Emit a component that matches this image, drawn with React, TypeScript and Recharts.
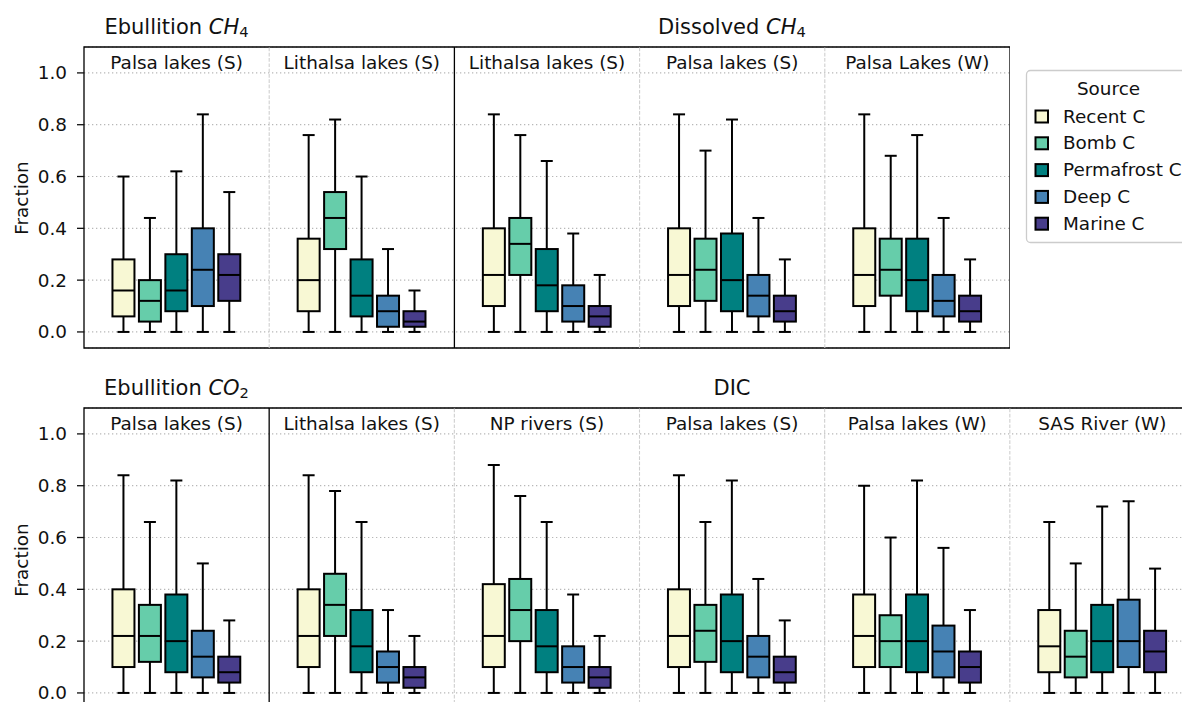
import React from 'react';
import { ComposedChart, Bar, XAxis, YAxis, CartesianGrid, ReferenceLine, ReferenceArea } from 'recharts';

const SOURCES = ['Recent C', 'Bomb C', 'Permafrost C', 'Deep C', 'Marine C'];
const COLORS = ['#f8f8d4', '#66cdaa', '#008080', '#4682b4', '#483d8b'];
const Y_TICKS = [0, 0.2, 0.4, 0.6, 0.8, 1.0];
const Y_DOMAIN: [number, number] = [-0.062, 1.1];
const LOW = [0, 0, 0, 0, 0];

// Top row: Ebullition CH4 (2 panels) + Dissolved CH4 (3 panels)
const TOP_LABELS = ['Palsa lakes (S)', 'Lithalsa lakes (S)', 'Lithalsa lakes (S)', 'Palsa lakes (S)', 'Palsa Lakes (W)'];
const TOP_HI = [
  [0.60, 0.44, 0.62, 0.84, 0.54],
  [0.76, 0.82, 0.60, 0.32, 0.16],
  [0.84, 0.76, 0.66, 0.38, 0.22],
  [0.84, 0.70, 0.82, 0.44, 0.28],
  [0.84, 0.68, 0.76, 0.44, 0.28],
];
const TOP_Q3 = [
  [0.28, 0.20, 0.30, 0.40, 0.30],
  [0.36, 0.54, 0.28, 0.14, 0.08],
  [0.40, 0.44, 0.32, 0.18, 0.10],
  [0.40, 0.36, 0.38, 0.22, 0.14],
  [0.40, 0.36, 0.36, 0.22, 0.14],
];
const TOP_MED = [
  [0.16, 0.12, 0.16, 0.24, 0.22],
  [0.20, 0.44, 0.14, 0.08, 0.04],
  [0.22, 0.34, 0.18, 0.10, 0.06],
  [0.22, 0.24, 0.20, 0.14, 0.08],
  [0.22, 0.24, 0.20, 0.12, 0.08],
];
const TOP_Q1 = [
  [0.06, 0.04, 0.08, 0.10, 0.12],
  [0.08, 0.32, 0.06, 0.02, 0.02],
  [0.10, 0.22, 0.08, 0.04, 0.02],
  [0.10, 0.12, 0.08, 0.06, 0.04],
  [0.10, 0.14, 0.08, 0.06, 0.04],
];

// Bottom row: Ebullition CO2 (1 panel) + DIC (5 panels)
const BOT_LABELS = ['Palsa lakes (S)', 'Lithalsa lakes (S)', 'NP rivers (S)', 'Palsa lakes (S)', 'Palsa lakes (W)', 'SAS River (W)'];
const BOT_HI = [
  [0.84, 0.66, 0.82, 0.50, 0.28],
  [0.84, 0.78, 0.66, 0.32, 0.22],
  [0.88, 0.76, 0.66, 0.38, 0.22],
  [0.84, 0.66, 0.82, 0.44, 0.28],
  [0.80, 0.60, 0.82, 0.56, 0.32],
  [0.66, 0.50, 0.72, 0.74, 0.48],
];
const BOT_Q3 = [
  [0.40, 0.34, 0.38, 0.24, 0.14],
  [0.40, 0.46, 0.32, 0.16, 0.10],
  [0.42, 0.44, 0.32, 0.18, 0.10],
  [0.40, 0.34, 0.38, 0.22, 0.14],
  [0.38, 0.30, 0.38, 0.26, 0.16],
  [0.32, 0.24, 0.34, 0.36, 0.24],
];
const BOT_MED = [
  [0.22, 0.22, 0.20, 0.14, 0.08],
  [0.22, 0.34, 0.18, 0.10, 0.06],
  [0.22, 0.32, 0.18, 0.10, 0.06],
  [0.22, 0.24, 0.20, 0.14, 0.08],
  [0.22, 0.20, 0.20, 0.16, 0.10],
  [0.18, 0.14, 0.20, 0.20, 0.16],
];
const BOT_Q1 = [
  [0.10, 0.12, 0.08, 0.06, 0.04],
  [0.10, 0.22, 0.08, 0.04, 0.02],
  [0.10, 0.20, 0.08, 0.04, 0.02],
  [0.10, 0.12, 0.08, 0.06, 0.04],
  [0.10, 0.10, 0.08, 0.06, 0.04],
  [0.08, 0.06, 0.08, 0.10, 0.08],
];

function buildRows(prefix: string, hi: number[][], q3: number[][], med: number[][], q1: number[][]) {
  const rows: any[] = [];
  hi.forEach((panelHi, p) => {
    rows.push({ key: `${prefix}${p}-L` });
    panelHi.forEach((h, s) => {
      rows.push({
        key: `${prefix}${p}-${s}`,
        src: s,
        range: [LOW[s], h],
        q1: q1[p][s],
        med: med[p][s],
        q3: q3[p][s],
      });
    });
    rows.push({ key: `${prefix}${p}-R` });
  });
  return rows;
}

const topData = buildRows('t', TOP_HI, TOP_Q3, TOP_MED, TOP_Q1);
const botData = buildRows('b', BOT_HI, BOT_Q3, BOT_MED, BOT_Q1);

const FONT = 'DejaVu Sans';
const TXT = '#111';

const BoxShape = (props: any) => {
  const { x, y, width, height, payload } = props;
  if (!payload || payload.src == null || !payload.range) return <g />;
  const lo = payload.range[0];
  const hi = payload.range[1];
  const ppu = height / (hi - lo);
  const py = (v: number) => y + (hi - v) * ppu;
  const cx = x + width / 2;
  const cap = width / 4;
  const sw = 2;
  return (
    <g>
      <line x1={cx} x2={cx} y1={py(hi)} y2={py(payload.q3)} stroke="#000" strokeWidth={sw} />
      <line x1={cx} x2={cx} y1={py(payload.q1)} y2={py(lo)} stroke="#000" strokeWidth={sw} />
      <line x1={cx - cap} x2={cx + cap} y1={py(hi)} y2={py(hi)} stroke="#000" strokeWidth={sw} />
      <line x1={cx - cap} x2={cx + cap} y1={py(lo)} y2={py(lo)} stroke="#000" strokeWidth={sw} />
      <rect
        x={x + 1}
        y={py(payload.q3)}
        width={width - 2}
        height={py(payload.q1) - py(payload.q3)}
        fill={COLORS[payload.src]}
        stroke="#000"
        strokeWidth={sw}
      />
      <line x1={x + 1} x2={x + width - 1} y1={py(payload.med)} y2={py(payload.med)} stroke="#000" strokeWidth={sw} />
    </g>
  );
};

function Row({ data, prefix, labels, solidAt, width, height, margin }: any) {
  return (
    <ComposedChart width={width} height={height} data={data} margin={margin}>
      <CartesianGrid vertical={false} stroke="#b8b8b8" strokeWidth={1.2} strokeDasharray="1.3 2.7" />
      <XAxis dataKey="key" hide />
      <YAxis
        domain={Y_DOMAIN}
        ticks={Y_TICKS}
        allowDataOverflow
        width={60}
        axisLine={false}
        tickSize={7}
        tickMargin={10}
        tickLine={{ stroke: TXT, strokeWidth: 1.3 }}
        tick={{ fill: TXT, fontSize: 18.4, fontFamily: FONT }}
        tickFormatter={(v: number) => v.toFixed(1)}
      />
      {labels.map((_: string, i: number) =>
        i === 0 ? null : (
          <ReferenceLine
            key={`d${i}`}
            x={`${prefix}${i}-L`}
            position="start"
            stroke={i === solidAt ? '#000' : '#cfcfcf'}
            strokeWidth={i === solidAt ? 1.3 : 1.1}
            strokeDasharray={i === solidAt ? undefined : '3.7 1.6'}
          />
        )
      )}
      {labels.map((lab: string, i: number) => (
        <ReferenceArea
          key={`l${i}`}
          x1={`${prefix}${i}-L`}
          x2={`${prefix}${i}-R`}
          y1={Y_DOMAIN[0]}
          y2={Y_DOMAIN[1]}
          fill="none"
          stroke="none"
          label={{ value: lab, position: 'insideTop', offset: 9, fill: TXT, fontSize: 18.4, fontFamily: FONT }}
        />
      ))}
      <ReferenceArea
        y1={Y_DOMAIN[0]}
        y2={Y_DOMAIN[1]}
        fill="none"
        stroke="#000"
        strokeWidth={1.3}
      />
      <Bar dataKey="range" barSize={24} shape={BoxShape} isAnimationActive={false} />
    </ComposedChart>
  );
}

export default function App() {
  const legendRows = [122.5, 149.3, 176.1, 202.9, 229.7];
  return (
    <div style={{ position: 'absolute', left: 0, top: 0, width: 1182, height: 702, overflow: 'hidden', background: '#fff' }}>
      <div style={{ position: 'absolute', left: 0, top: 0 }}>
        <Row data={topData} prefix="t" labels={TOP_LABELS} solidAt={2} width={1010} height={352}
          margin={{ top: 47, right: 0, left: 24, bottom: 4 }} />
      </div>
      <div style={{ position: 'absolute', left: 0, top: 360 }}>
        <Row data={botData} prefix="b" labels={BOT_LABELS} solidAt={1} width={1200} height={352}
          margin={{ top: 48, right: 5, left: 24, bottom: 3 }} />
      </div>
      <svg width={1182} height={702} style={{ position: 'absolute', left: 0, top: 0, pointerEvents: 'none' }} fontFamily={FONT}>
        <text x={176.5} y={34} textAnchor="middle" fontSize={21} fill={TXT}>
          Ebullition <tspan fontStyle="italic">CH</tspan><tspan fontSize={14.7} dy={3}>4</tspan>
        </text>
        <text x={732} y={34} textAnchor="middle" fontSize={21} fill={TXT}>
          Dissolved <tspan fontStyle="italic">CH</tspan><tspan fontSize={14.7} dy={3}>4</tspan>
        </text>
        <text x={176.5} y={395} textAnchor="middle" fontSize={21} fill={TXT}>
          Ebullition <tspan fontStyle="italic">CO</tspan><tspan fontSize={14.7} dy={3}>2</tspan>
        </text>
        <text x={732} y={395} textAnchor="middle" fontSize={21} fill={TXT}>DIC</text>
        <text transform="translate(28,198) rotate(-90)" textAnchor="middle" fontSize={18.4} fill={TXT}>Fraction</text>
        <text transform="translate(28,560) rotate(-90)" textAnchor="middle" fontSize={18.4} fill={TXT}>Fraction</text>
        <rect x={1026.5} y={70.5} width={166} height={172} rx={4} fill="#fff" fillOpacity={0.8} stroke="#cccccc" strokeWidth={1.3} />
        <text x={1108.5} y={95} textAnchor="middle" fontSize={18.4} fill={TXT}>Source</text>
        {SOURCES.map((s, i) => (
          <g key={s}>
            <rect x={1035.5} y={legendRows[i] - 12} width={12.5} height={12} fill={COLORS[i]} stroke="#000" strokeWidth={2} />
            <text x={1063} y={legendRows[i]} fontSize={18.4} fill={TXT}>{s}</text>
          </g>
        ))}
      </svg>
    </div>
  );
}
